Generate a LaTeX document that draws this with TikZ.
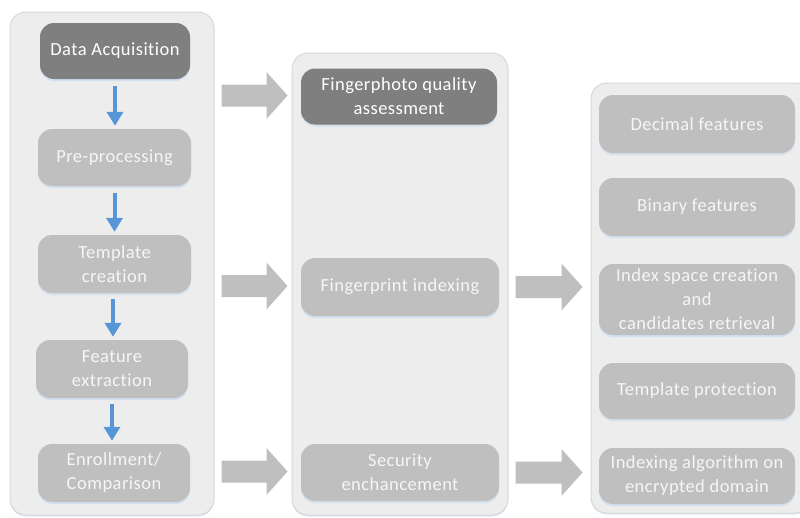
\documentclass[tikz,border=0pt]{standalone}
\usepackage{fontspec}
\setmainfont{Carlito}[Ligatures=NoCommon, LetterSpace=2.5]
\usetikzlibrary{arrows.meta,calc,shadows}
\definecolor{panelfill}{RGB}{237,237,237}
\definecolor{panelline}{RGB}{216,216,216}
\definecolor{boxlight}{RGB}{191,191,191}
\definecolor{boxdark}{RGB}{127,127,127}
\definecolor{glow}{RGB}{205,221,240}
\definecolor{flowblue}{RGB}{86,150,214}
\definecolor{arrowgray}{RGB}{191,191,191}
\definecolor{boxtext}{RGB}{246,246,246}

% horizontal block arrow from #1 to the tip #2 (same height)
\newcommand{\blockarrow}[2]{%
  \fill[arrowgray] let \p1=(#1), \p2=(#2) in
    (\x1,\y1+11pt) -- (\x2-21pt,\y1+11pt) -- (\x2-21pt,\y1+23.5pt) --
    (\x2,\y1) -- (\x2-21pt,\y1-23.5pt) -- (\x2-21pt,\y1-11pt) --
    (\x1,\y1-11pt) -- cycle;}

\begin{document}
\begin{tikzpicture}[x=1pt,y=-1pt,
  panel/.style={draw=panelline, line width=1pt, fill=panelfill, rounded corners=16pt,
    drop shadow={shadow xshift=0pt, shadow yshift=-1.5pt, fill=glow, opacity=0.7}},
  stage/.style={fill=boxlight, rounded corners=14pt, text=boxtext, align=center,
    font=\fontsize{18.5}{24}\selectfont, inner sep=0pt,
    drop shadow={shadow xshift=0pt, shadow yshift=-2pt, fill=glow, opacity=0.8}},
  darkstage/.style={stage, fill=boxdark, text=white},
  flow/.style={draw=flowblue, line width=4pt, -{Triangle[width=16pt,length=14pt]}}]

\useasboundingbox (0,0) rectangle (800,517);
\clip (0,0) rectangle (800,517);
\fill[white] (0,0) rectangle (800,517);

% panels
\node[panel, minimum width=204pt, minimum height=503pt] (leftc) at (112,263.5) {};
\node[panel, minimum width=216pt, minimum height=462pt] (midc) at (400,284) {};
\node[panel, minimum width=220pt, minimum height=430pt] (rightc) at (701,298) {};

% pipeline stages
\node[darkstage, minimum width=150pt, minimum height=56pt] (da) at (115,51) {Data Acquisition};
\node[stage, minimum width=153pt, minimum height=57pt] (pre) at (114.5,157.5) {Pre-processing};
\node[stage, minimum width=153pt, minimum height=58pt] (tc) at (114.5,264) {Template\\creation};
\node[stage, minimum width=152pt, minimum height=58pt] (fe) at (112,369) {Feature\\extraction};
\node[stage, minimum width=152pt, minimum height=58pt] (ec) at (114,473) {Enrollment/\\Comparison};

% research topics
\node[darkstage, minimum width=196pt, minimum height=56pt] (fq) at (399,96.5) {Fingerphoto quality\\assessment};
\node[stage, minimum width=198pt, minimum height=58pt] (fi) at (400,287) {Fingerprint indexing};
\node[stage, minimum width=198pt, minimum height=57pt] (se) at (400,472.5) {Security\\enchancement};

% contributions
\node[stage, minimum width=196pt, minimum height=58pt] (df) at (697,124) {Decimal features};
\node[stage, minimum width=196pt, minimum height=58pt] (bf) at (697,207) {Binary features};
\node[stage, minimum width=196pt, minimum height=71pt] (is) at (697,299.5) {Index space creation\\and\\candidates retrieval};
\node[stage, minimum width=196pt, minimum height=56pt] (tp) at (697,391) {Template protection};
\node[stage, minimum width=196pt, minimum height=56pt] (ia) at (697,476) {Indexing algorithm on\\encrypted domain};

% pipeline flow
\draw[flow, shorten <=7pt, shorten >=3pt] (da.south) -- (da.south |- pre.north);
\draw[flow, shorten <=7pt, shorten >=3pt] (pre.south) -- (pre.south |- tc.north);
\draw[flow, shorten <=6pt, shorten >=3pt] ([xshift=-1.5pt]tc.south) -- ([xshift=-1.5pt]tc.south |- fe.north);
\draw[flow, shorten <=6pt, shorten >=3pt] (fe.south) -- (fe.south |- ec.north);

% block arrows between panels
\coordinate (a1s) at ($(leftc.east |- fq)+(7,-1)$);
\coordinate (a1e) at ($(midc.west |- fq)+(-4,-1)$);
\coordinate (a2s) at ($(leftc.east |- fi)+(7,-1)$);
\coordinate (a2e) at ($(midc.west |- fi)+(-4,-1)$);
\coordinate (a3s) at ($(leftc.east |- se)+(7,-1)$);
\coordinate (a3e) at ($(midc.west |- se)+(-4,-1)$);
\coordinate (b1s) at ($(midc.east |- fi)+(7,0)$);
\coordinate (b1e) at ($(rightc.west |- fi)+(-8,0)$);
\coordinate (b2s) at ($(midc.east |- se)+(7,0)$);
\coordinate (b2e) at ($(rightc.west |- se)+(-8,0)$);
\blockarrow{a1s}{a1e}
\blockarrow{a2s}{a2e}
\blockarrow{a3s}{a3e}
\blockarrow{b1s}{b1e}
\blockarrow{b2s}{b2e}
\end{tikzpicture}
\end{document}
